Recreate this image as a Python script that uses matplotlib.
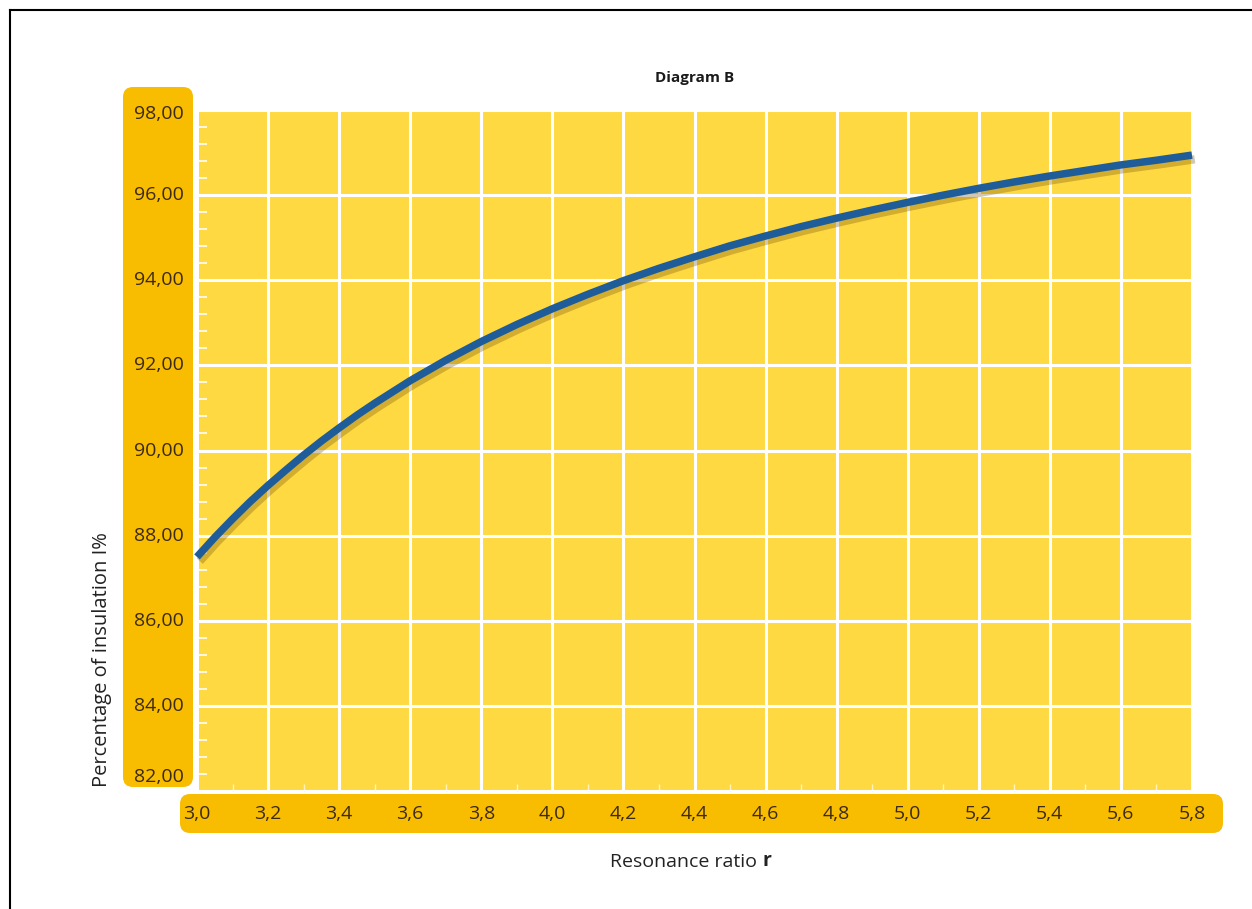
import matplotlib
matplotlib.use("Agg")
import matplotlib.pyplot as plt
import numpy as np
from matplotlib.patches import FancyBboxPatch
from matplotlib.lines import Line2D
from matplotlib.transforms import IdentityTransform, blended_transform_factory, offset_copy
import matplotlib.patheffects as pe

plt.rcParams['font.family'] = ['Open Sans', 'DejaVu Sans']

# Resonance ratio r and the resulting insulation percentage
ratio = [3.0, 3.05, 3.1, 3.15, 3.2, 3.25, 3.3, 3.35, 3.4, 3.45, 3.5, 3.6, 3.7, 3.8,
         3.9, 4.0, 4.1, 4.2, 4.3, 4.4, 4.5, 4.6, 4.7, 4.8, 4.9, 5.0, 5.1, 5.2, 5.3,
         5.4, 5.5, 5.6, 5.7, 5.8]
insulation = [87.50, 87.96, 88.39, 88.80, 89.18, 89.54, 89.89, 90.22, 90.53, 90.83,
              91.11, 91.64, 92.12, 92.56, 92.96, 93.33, 93.67, 93.99, 94.28, 94.55,
              94.81, 95.04, 95.26, 95.46, 95.65, 95.83, 96.00, 96.16, 96.31, 96.45,
              96.58, 96.71, 96.82, 96.94]

x_ticks = [3.0, 3.2, 3.4, 3.6, 3.8, 4.0, 4.2, 4.4, 4.6, 4.8, 5.0, 5.2, 5.4, 5.6, 5.8]
x_labels = ["3,0", "3,2", "3,4", "3,6", "3,8", "4,0", "4,2", "4,4", "4,6", "4,8",
            "5,0", "5,2", "5,4", "5,6", "5,8"]
y_ticks = [82, 84, 86, 88, 90, 92, 94, 96, 98]
y_labels = ["82,00", "84,00", "86,00", "88,00", "90,00", "92,00", "94,00", "96,00", "98,00"]

W, H = 1252, 909
fig = plt.figure(figsize=(W / 100, H / 100), dpi=100)
fig.patch.set_facecolor("white")

PLOT_BG = "#FFD942"
BAND = "#F8BC00"
TEXT = "#3d2a12"

ax = fig.add_axes([197 / W, 118 / H, 995 / W, 681 / H])
ax.set_zorder(2)
ax.set_facecolor(PLOT_BG)
ax.set_xlim(3.0, 5.8)
ax.set_ylim(82, 98)
for s in ax.spines.values():
    s.set_visible(False)

# grid
ax.set_xticks(x_ticks)
ax.set_yticks(y_ticks)
ax.grid(True, color="white", linewidth=2.2)
ax.set_axisbelow(True)
ax.tick_params(which="major", length=0, labelleft=False, labelbottom=False)
ax.set_xticks(np.arange(3.1, 5.8, 0.2), minor=True)
ax.set_yticks([v for v in np.arange(82.4, 98, 0.4) if abs(v - round(v / 2) * 2) > 0.05],
              minor=True)
ax.tick_params(axis="y", which="minor", direction="in", length=7, width=1.2, color="white")
ax.tick_params(axis="x", which="minor", direction="in", length=5, width=1.0, color="#fff3c0")

# label bands
yband = FancyBboxPatch((123 + 10, 122 + 10), 70 - 20, 700 - 20,
                       boxstyle="round,pad=10", transform=IdentityTransform(),
                       facecolor=BAND, edgecolor="none", zorder=0)
xband = FancyBboxPatch((180 + 10, 76 + 10), 1043 - 20, 39 - 20,
                       boxstyle="round,pad=10", transform=IdentityTransform(),
                       facecolor=BAND, edgecolor="none", zorder=0)
fig.patches.extend([yband, xband])

# tick labels inside the bands
ytr = blended_transform_factory(IdentityTransform(), ax.transData)
for v, lab in zip(y_ticks, y_labels):
    dy = -4 if v == y_ticks[-1] else (14 if v == y_ticks[0] else 0)
    tr = offset_copy(ytr, fig=fig, y=dy, units="dots")
    ax.text(184, v, lab, transform=tr, ha="right", va="center",
            fontsize=14, color=TEXT, clip_on=False)
xtr = blended_transform_factory(ax.transData, IdentityTransform())
for v, lab in zip(x_ticks, x_labels):
    ax.text(v, 95, lab, transform=xtr, ha="center", va="center",
            fontsize=14, color=TEXT, clip_on=False)

# curve with drop shadow
ax.plot(ratio, insulation, color="#1f5c9a", linewidth=5.4, solid_capstyle="butt",
        solid_joinstyle="round", clip_on=False, zorder=5,
        path_effects=[pe.SimpleLineShadow(offset=(2, -3), shadow_color="#6b4a00",
                                          alpha=0.3, linewidth=6),
                      pe.Normal()])

# titles
fig.text(694.5, 831, "Diagram B", transform=IdentityTransform(), ha="center",
         va="center", fontsize=11, fontweight="bold", color="#1a1a1a")
xl = fig.text(684, 47, "Resonance ratio", transform=IdentityTransform(),
              ha="center", va="center", fontsize=14, color="#222222")
ax.annotate("r", xy=(1, 0), xycoords=xl, xytext=(5, 0), textcoords="offset pixels",
            ha="left", va="bottom", fontsize=14, fontweight="bold", color="#222222",
            annotation_clip=False)
fig.text(102, 249, "Percentage of insulation I%", transform=IdentityTransform(),
         ha="center", va="center", rotation=90, fontsize=14.5, color="#222222")

# outer frame (top and left edges)
fig.lines.append(Line2D([10, 10], [0, H - 10], transform=IdentityTransform(),
                        color="black", linewidth=1.5))
fig.lines.append(Line2D([10, W], [H - 10, H - 10], transform=IdentityTransform(),
                        color="black", linewidth=1.5))

fig.savefig("out.png", dpi=100)
